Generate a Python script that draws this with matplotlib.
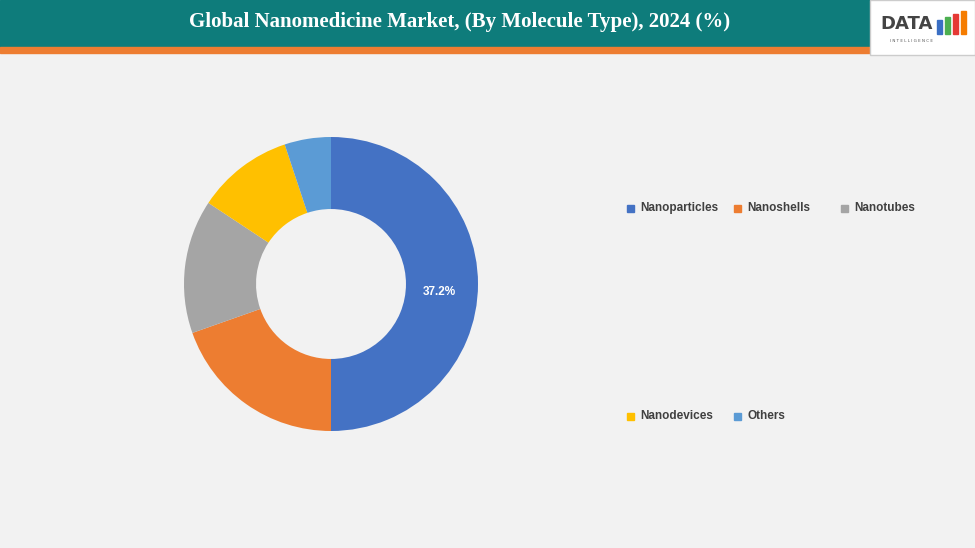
import numpy as np
import matplotlib.pyplot as plt
from matplotlib.patches import Rectangle

categories = ["Nanoparticles", "Nanoshells", "Nanotubes", "Nanodevices", "Others"]
shares = [50.0, 19.6, 14.7, 10.6, 5.1]
colors = ["#4472c4", "#ed7d31", "#a5a5a5", "#ffc000", "#5b9bd5"]
shown_label = "37.2%"

W, H = 975, 548
fig = plt.figure(figsize=(W / 100, H / 100), dpi=100)
fig.patch.set_facecolor("#f2f2f2")

# header band
fig.patches.append(Rectangle((0, 1 - 47 / H), 1, 47 / H, transform=fig.transFigure,
                             color="#0e7c7b", zorder=0))
fig.patches.append(Rectangle((0, 1 - 53 / H), 870 / W, 6 / H, transform=fig.transFigure,
                             color="#ed7d31", zorder=0))
fig.patches.append(Rectangle((870 / W, 1 - 55 / H), 105 / W, 55 / H, transform=fig.transFigure,
                             facecolor="white", edgecolor="#cccccc", zorder=1))
fig.text(460 / W, 1 - 22 / H, "Global Nanomedicine Market, (By Molecule Type), 2024 (%)",
         ha="center", va="center", color="white", fontsize=15, fontweight="bold",
         family="Liberation Serif")
fig.text(880 / W, 1 - 24 / H, "DATA", ha="left", va="center", color="#444444",
         fontsize=13, fontweight="bold")
bar_cols = ["#3a6fc4", "#4caf50", "#e53935", "#f57c00"]
for i, c in enumerate(bar_cols):
    h = 14 + i * 3
    fig.patches.append(Rectangle(((937 + i * 8) / W, 1 - 34 / H), 5 / W, h / H,
                                 transform=fig.transFigure, color=c, zorder=2))
fig.text(912 / W, 1 - 41 / H, "I N T E L L I G E N C E", ha="center", va="center",
         color="#555555", fontsize=3)

# donut
ax = fig.add_axes([(331 - 160) / W, (H - 284 - 160) / H, 320 / W, 320 / H])
ax.set_facecolor("none")
wedges, _ = ax.pie(shares, colors=colors, startangle=90, counterclock=False,
                   radius=147 / 160, wedgeprops=dict(width=0.49 * 147 / 160, linewidth=0))
ax.text(0.68, -0.05, shown_label, ha="center", va="center", color="white",
        fontsize=8.5, fontweight="bold", family="Liberation Sans")
ax.set_xlim(-1, 1)
ax.set_ylim(-1, 1)
ax.axis("off")

# legend
legend_pos = [(627, 208), (734, 208), (841, 208), (627, 416), (734, 416)]
for (x, y), name, c in zip(legend_pos, categories, colors):
    fig.patches.append(Rectangle((x / W, (H - y - 3.5) / H), 7 / W, 7 / H,
                                 transform=fig.transFigure, color=c))
    fig.text((x + 13) / W, (H - y) / H, name, ha="left", va="center",
             color="#404040", fontsize=8.5, fontweight="bold", family="Liberation Sans")

fig.savefig("out.png", dpi=100, facecolor=fig.get_facecolor())
